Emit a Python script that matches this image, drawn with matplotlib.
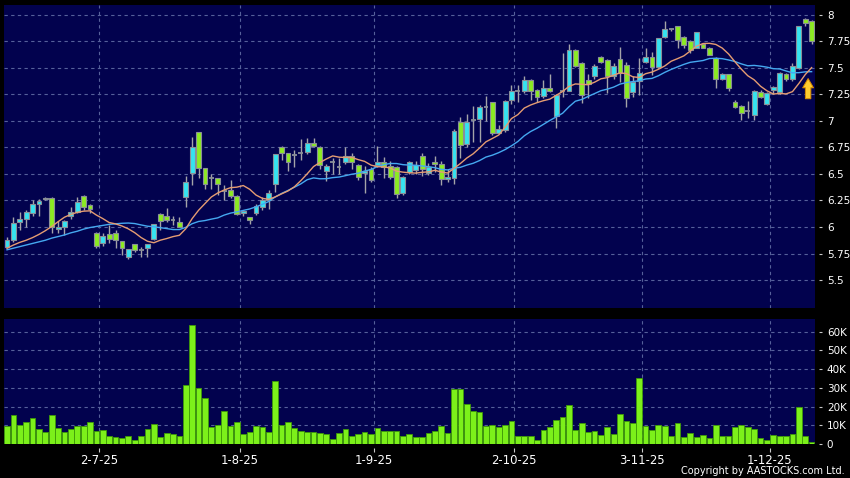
import matplotlib
matplotlib.use('Agg')
import matplotlib.pyplot as plt
import numpy as np
import pandas as pd

# ---------------- data ----------------
opens = [5.81, 5.88, 6.05, 6.08, 6.13, 6.22, 6.27, 6.27, 5.98, 6.00,
         6.10, 6.14, 6.29, 6.21, 5.94, 5.85, 5.93, 5.945, 5.87, 5.72,
         5.84, 5.78, 5.80, 5.89, 6.12, 6.10, 6.07, 6.045, 6.28, 6.51,
         6.90, 6.56, 6.46, 6.46, 6.34, 6.35, 6.295, 6.13, 6.09, 6.13,
         6.19, 6.255, 6.41, 6.75, 6.695, 6.68, 6.695, 6.71, 6.795, 6.75,
         6.53, 6.61, 6.57, 6.615, 6.67, 6.585, 6.505, 6.545, 6.585, 6.61,
         6.58, 6.57, 6.32, 6.52, 6.54, 6.67, 6.505, 6.615, 6.59, 6.45,
         6.46, 6.99, 6.78, 7.01, 7.02, 7.135, 7.175, 6.89, 6.915, 7.20,
         7.28, 7.285, 7.39, 7.29, 7.235, 7.315, 7.05, 7.28, 7.285, 7.67,
         7.55, 7.39, 7.42, 7.60, 7.575, 7.425, 7.58, 7.53, 7.27, 7.375,
         7.56, 7.60, 7.505, 7.795, 7.87, 7.90, 7.795, 7.755, 7.69, 7.725,
         7.69, 7.59, 7.395, 7.44, 7.175, 7.14, 7.095, 7.055, 7.27, 7.16,
         7.29, 7.27, 7.44, 7.40, 7.50, 7.96, 7.945]
highs = [5.91, 6.09, 6.14, 6.16, 6.25, 6.26, 6.28, 6.28, 6.06, 6.07,
         6.19, 6.28, 6.30, 6.22, 5.95, 5.94, 6.02, 5.97, 5.87, 5.79,
         5.84, 5.81, 5.84, 6.03, 6.13, 6.18, 6.10, 6.09, 6.48, 6.85,
         6.90, 6.56, 6.50, 6.46, 6.40, 6.44, 6.30, 6.16, 6.09, 6.22,
         6.28, 6.35, 6.69, 6.76, 6.70, 6.73, 6.83, 6.84, 6.84, 6.76,
         6.59, 6.65, 6.65, 6.75, 6.70, 6.59, 6.58, 6.57, 6.76, 6.66,
         6.62, 6.58, 6.48, 6.62, 6.62, 6.70, 6.60, 6.67, 6.62, 6.55,
         6.92, 7.04, 7.07, 7.14, 7.15, 7.24, 7.18, 6.96, 7.20, 7.34,
         7.34, 7.42, 7.40, 7.30, 7.39, 7.44, 7.25, 7.64, 7.73, 7.68,
         7.56, 7.44, 7.54, 7.61, 7.58, 7.55, 7.70, 7.56, 7.42, 7.59,
         7.69, 7.65, 7.78, 7.94, 7.87, 7.90, 7.80, 7.76, 7.84, 7.73,
         7.70, 7.60, 7.45, 7.44, 7.20, 7.15, 7.19, 7.29, 7.29, 7.27,
         7.33, 7.46, 7.45, 7.55, 7.90, 7.97, 7.95]
lows = [5.80, 5.86, 5.97, 6.00, 6.10, 6.10, 6.25, 5.94, 5.94, 5.92,
        6.08, 6.13, 6.16, 6.13, 5.80, 5.82, 5.85, 5.80, 5.735, 5.70,
        5.76, 5.72, 5.72, 5.88, 5.97, 6.05, 6.02, 6.00, 6.19, 6.40,
        6.46, 6.355, 6.36, 6.30, 6.25, 6.27, 6.11, 6.10, 6.03, 6.11,
        6.16, 6.17, 6.33, 6.63, 6.53, 6.57, 6.63, 6.69, 6.75, 6.55,
        6.43, 6.50, 6.50, 6.59, 6.55, 6.44, 6.32, 6.42, 6.57, 6.46,
        6.45, 6.27, 6.30, 6.50, 6.50, 6.48, 6.49, 6.52, 6.40, 6.42,
        6.41, 6.65, 6.75, 6.80, 6.80, 7.00, 6.87, 6.88, 6.90, 7.16,
        7.18, 7.26, 7.20, 7.18, 7.22, 7.27, 6.93, 7.23, 7.28, 7.51,
        7.17, 7.22, 7.40, 7.55, 7.26, 7.40, 7.37, 7.135, 7.23, 7.245,
        7.55, 7.43, 7.50, 7.78, 7.85, 7.69, 7.69, 7.64, 7.69, 7.69,
        7.62, 7.31, 7.39, 7.28, 7.12, 7.01, 7.03, 7.01, 7.22, 7.15,
        7.25, 7.25, 7.38, 7.38, 7.49, 7.90, 7.73]
closes = [5.88, 6.04, 6.08, 6.14, 6.22, 6.245, 6.26, 6.00, 6.00, 6.06,
          6.14, 6.24, 6.19, 6.17, 5.82, 5.915, 5.885, 5.875, 5.80, 5.79,
          5.78, 5.78, 5.84, 6.03, 6.06, 6.07, 6.07, 6.00, 6.42, 6.75,
          6.56, 6.41, 6.46, 6.41, 6.34, 6.29, 6.12, 6.15, 6.07, 6.20,
          6.25, 6.32, 6.69, 6.695, 6.615, 6.68, 6.695, 6.795, 6.76, 6.585,
          6.58, 6.61, 6.57, 6.67, 6.615, 6.475, 6.53, 6.445, 6.61, 6.57,
          6.47, 6.315, 6.475, 6.61, 6.585, 6.55, 6.57, 6.595, 6.45, 6.47,
          6.91, 6.775, 6.99, 7.01, 7.13, 7.135, 6.885, 6.92, 7.19, 7.285,
          7.28, 7.39, 7.285, 7.23, 7.315, 7.28, 7.245, 7.28, 7.67, 7.52,
          7.245, 7.35, 7.52, 7.555, 7.425, 7.52, 7.45, 7.215, 7.37, 7.45,
          7.605, 7.505, 7.78, 7.87, 7.87, 7.765, 7.715, 7.67, 7.835, 7.69,
          7.625, 7.40, 7.44, 7.31, 7.13, 7.075, 7.095, 7.285, 7.23, 7.26,
          7.32, 7.45, 7.40, 7.52, 7.90, 7.92, 7.75]
volumes_k = [9.5, 15.7, 10.2, 12.0, 13.9, 7.9, 6.6, 15.5, 8.4, 6.4,
             8.2, 9.8, 9.6, 12.0, 7.1, 7.5, 4.1, 3.75, 3.4, 4.3,
             2.1, 4.1, 8.0, 10.5, 3.9, 5.9, 5.5, 4.5, 31.3, 63.4,
             29.8, 24.6, 8.9, 10.0, 17.9, 9.8, 11.6, 5.2, 6.25, 9.8,
             9.3, 6.6, 33.6, 10.4, 11.6, 8.4, 7.1, 6.25, 6.6, 5.7,
             5.4, 2.7, 6.1, 8.0, 4.5, 5.4, 6.25, 5.2, 8.6, 6.8,
             6.8, 6.8, 4.3, 5.4, 3.75, 3.75, 5.7, 7.0, 9.5, 6.1,
             29.3, 29.3, 21.3, 17.5, 17.3, 9.8, 10.2, 8.9, 10.0, 12.1,
             4.5, 4.5, 4.5, 2.0, 7.7, 9.1, 12.9, 14.5, 20.9, 7.7,
             11.25, 6.25, 7.1, 4.6, 9.3, 5.4, 15.9, 12.3, 11.4, 35.4,
             9.5, 7.3, 10.2, 9.6, 4.1, 11.4, 3.9, 5.9, 3.9, 4.6,
             3.2, 10.0, 4.1, 4.1, 9.1, 10.2, 8.9, 8.0, 3.4, 2.1,
             5.0, 4.3, 4.5, 5.4, 20.0, 4.1, 0.9]
# moving-average values before the windows fill
ma10_head = [5.80, 5.83, 5.855, 5.875, 5.90, 5.93, 5.965, 6.005, 6.05]
ma20_head = [5.785, 5.80, 5.815, 5.83, 5.845, 5.86, 5.875, 5.895, 5.91, 5.925,
             5.945, 5.96, 5.98, 5.995, 6.005, 6.015, 6.025, 6.03, 6.035]
date_labels = ['2-7-25', '1-8-25', '1-9-25', '2-10-25', '3-11-25', '1-12-25']
date_index = [14, 36, 57, 79, 99, 119]
price_ticks = [5.5, 5.75, 6, 6.25, 6.5, 6.75, 7, 7.25, 7.5, 7.75, 8]
price_tick_labels = ['5.5', '5.75', '6', '6.25', '6.5', '6.75', '7', '7.25', '7.5', '7.75', '8']
vol_ticks = [0, 10000, 20000, 30000, 40000, 50000, 60000]
vol_tick_labels = ['0', '10K', '20K', '30K', '40K', '50K', '60K']
signal_index = 125.45
signal_range = (7.21, 7.40)

# ---------------- style ----------------
BG = '#02024E'
GRID = '#56609A'
CYAN = '#35E3F0'
GREEN = '#8CEB22'
EDGE = '#8A8F98'
WICK = '#A4A4A8'
VGREEN = '#7CF01A'
VEDGE = '#3E9A08'
MA_S = '#E59C72'
MA_L = '#45A8F0'

W, H = 850, 478
fig = plt.figure(figsize=(W / 100, H / 100), dpi=100, facecolor='black')
ax = fig.add_axes([4 / W, 1 - 308 / H, 811 / W, 303 / H])
axv = fig.add_axes([4 / W, 1 - 444 / H, 811 / W, 125 / H])

o = np.array(opens); h = np.array(highs); l = np.array(lows); c = np.array(closes)
n = len(c)
x = np.arange(n)
xlim = (-0.47, 126.53)
grid_pos = np.array(date_index) + 0.45

for a in (ax, axv):
    a.set_facecolor(BG)
    for s in a.spines.values():
        s.set_color('none')
    a.set_xlim(*xlim)
    a.set_xticks(grid_pos)
    a.grid(True, color=GRID, linestyle=(0, (3, 3)), linewidth=0.8)
    a.set_axisbelow(True)
    a.yaxis.tick_right()
    a.spines['right'].set_position(('outward', 3))
    a.tick_params(axis='y', colors='#C8C8C8', length=2.5, width=0.8, pad=3,
                  labelsize=7.5, labelcolor='white')

# candles
ax.vlines(x, l, h, color=WICK, linewidth=1.0, zorder=2)
eq = np.isclose(o, c)
body_bottom = np.minimum(o, c)
body_h = np.abs(c - o)
cols = np.where(c > o, CYAN, GREEN)
ax.bar(x[~eq], body_h[~eq], bottom=body_bottom[~eq], width=0.76,
       color=cols[~eq], edgecolor=EDGE, linewidth=0.8, zorder=3)
ax.hlines(c[eq], x[eq] - 0.38, x[eq] + 0.38, color=EDGE, linewidth=1.3, zorder=3)

# moving averages
s = pd.Series(c)
ma10 = s.rolling(10).mean().to_numpy()
ma10[:len(ma10_head)] = ma10_head
ma20 = s.rolling(20).mean().to_numpy()
ma20[:len(ma20_head)] = ma20_head
ax.plot(x, ma20, color=MA_L, linewidth=1.0, zorder=4)
ax.plot(x, ma10, color=MA_S, linewidth=1.0, zorder=4)

# signal arrow
ax.annotate('', xy=(signal_index, signal_range[1]), xytext=(signal_index, signal_range[0]),
            arrowprops=dict(arrowstyle='simple,head_length=0.85,head_width=1.0,tail_width=0.5',
                            mutation_scale=7.8, fc='#FFCC2E', ec='#D98A00', lw=0.7,
                            shrinkA=0, shrinkB=0), zorder=6)

ax.set_ylim(5.236, 8.094)
ax.set_yticks(price_ticks, price_tick_labels)
ax.tick_params(axis='x', length=0, labelbottom=False)

# volume
axv.bar(x, np.array(volumes_k) * 1000, width=0.9, color=VGREEN, edgecolor=VEDGE,
        linewidth=0.6, zorder=3)
axv.set_ylim(0, 66800)
axv.set_yticks(vol_ticks, vol_tick_labels)
axv.spines['bottom'].set_position(('outward', 3))
axv.set_xticks(grid_pos, date_labels)
axv.tick_params(axis='x', colors='#C8C8C8', length=3, width=0.8, pad=1,
                labelsize=8.4, labelcolor='white')

fig.text(845 / W, 1 - 471 / H, 'Copyright by AASTOCKS.com Ltd.', ha='right', va='center',
         color='white', fontsize=7)

fig.savefig('out.png', dpi=100, facecolor='black')
